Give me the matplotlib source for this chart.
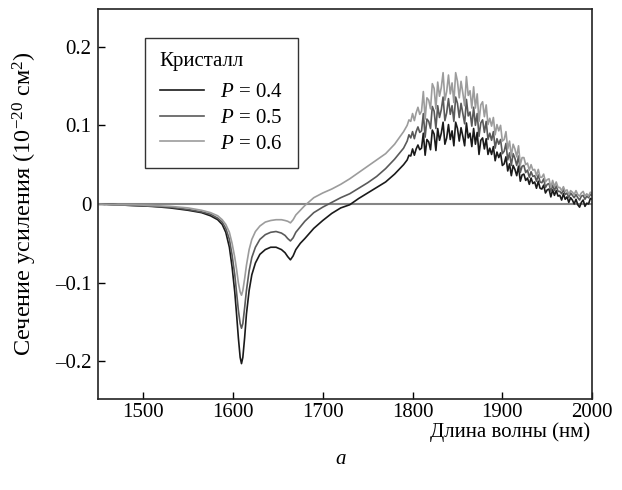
import numpy as np
import matplotlib
matplotlib.use("Agg")
import matplotlib.pyplot as plt

plt.rcParams['font.family'] = ['Liberation Serif', 'DejaVu Serif']
plt.rcParams['mathtext.fontset'] = 'custom'
plt.rcParams['mathtext.rm'] = 'Liberation Serif'
plt.rcParams['mathtext.it'] = 'Liberation Serif:italic'

# ---- data ----
wl_smooth = [1450, 1470, 1490, 1510, 1530, 1550, 1565, 1575, 1583, 1588, 1592, 1596,
             1599, 1602, 1604, 1606, 1608, 1609.5, 1611, 1613, 1615, 1618, 1621, 1625,
             1630, 1636, 1642, 1648, 1654, 1658, 1661, 1664, 1667, 1670, 1675, 1680,
             1690, 1700, 1710, 1720, 1730, 1740, 1750, 1760, 1770, 1780, 1790, 1794]
wl_noisy = list(range(1796, 2001, 2))
wavelength = np.array(wl_smooth + wl_noisy, dtype=float)

p04_smooth = [0.000, -0.001, -0.002, -0.003, -0.005, -0.008, -0.011, -0.015, -0.020, -0.026, -0.036, -0.055,
              -0.080, -0.112, -0.140, -0.170, -0.195, -0.203, -0.195, -0.170, -0.140, -0.110, -0.090, -0.075,
              -0.064, -0.058, -0.055, -0.055, -0.058, -0.062, -0.067, -0.071, -0.066, -0.058, -0.050, -0.044,
              -0.031, -0.021, -0.012, -0.005, -0.001, 0.007, 0.014, 0.021, 0.028, 0.038, 0.050, 0.056]
p04_noisy = [0.062, 0.061, 0.070, 0.062, 0.070, 0.075, 0.069, 0.071, 0.090, 0.062, 0.082, 0.079,
             0.069, 0.094, 0.089, 0.068, 0.096, 0.081, 0.090, 0.104, 0.076, 0.084, 0.101, 0.082,
             0.093, 0.074, 0.104, 0.096, 0.080, 0.097, 0.086, 0.074, 0.103, 0.084, 0.090, 0.073,
             0.096, 0.076, 0.091, 0.063, 0.081, 0.084, 0.070, 0.083, 0.063, 0.071, 0.063, 0.073,
             0.055, 0.066, 0.059, 0.065, 0.049, 0.051, 0.060, 0.042, 0.051, 0.036, 0.049, 0.044,
             0.036, 0.048, 0.029, 0.037, 0.038, 0.030, 0.033, 0.025, 0.033, 0.026, 0.028, 0.020,
             0.029, 0.020, 0.019, 0.024, 0.014, 0.018, 0.019, 0.009, 0.018, 0.011, 0.017, 0.010,
             0.011, 0.005, 0.013, 0.006, 0.009, 0.002, 0.008, 0.005, 0.000, 0.006, -0.001, -0.004,
             0.002, 0.005, -0.003, 0.001, 0.000, 0.007, 0.006]

p05_smooth = [0.000, -0.001, -0.002, -0.003, -0.004, -0.007, -0.010, -0.013, -0.018, -0.023, -0.031, -0.045,
              -0.065, -0.090, -0.112, -0.135, -0.152, -0.158, -0.152, -0.132, -0.110, -0.085, -0.068, -0.055,
              -0.045, -0.039, -0.036, -0.035, -0.037, -0.040, -0.044, -0.047, -0.043, -0.036, -0.029, -0.022,
              -0.011, -0.004, 0.002, 0.008, 0.013, 0.020, 0.027, 0.035, 0.045, 0.057, 0.071, 0.080]
p05_noisy = [0.088, 0.084, 0.092, 0.083, 0.092, 0.098, 0.091, 0.093, 0.115, 0.085, 0.108, 0.105,
             0.096, 0.124, 0.118, 0.096, 0.125, 0.110, 0.120, 0.136, 0.106, 0.116, 0.134, 0.114,
             0.125, 0.105, 0.136, 0.128, 0.110, 0.128, 0.115, 0.102, 0.133, 0.112, 0.117, 0.099,
             0.123, 0.100, 0.115, 0.086, 0.103, 0.107, 0.091, 0.105, 0.082, 0.090, 0.081, 0.092,
             0.071, 0.083, 0.076, 0.082, 0.064, 0.067, 0.077, 0.056, 0.065, 0.049, 0.064, 0.058,
             0.049, 0.061, 0.040, 0.048, 0.049, 0.040, 0.043, 0.034, 0.041, 0.035, 0.036, 0.029,
             0.037, 0.028, 0.027, 0.032, 0.021, 0.025, 0.026, 0.016, 0.024, 0.017, 0.023, 0.016,
             0.016, 0.013, 0.018, 0.012, 0.014, 0.008, 0.014, 0.011, 0.008, 0.012, 0.008, 0.005,
             0.010, 0.011, 0.006, 0.010, 0.008, 0.012, 0.011]

p06_smooth = [0.000, -0.001, -0.001, -0.002, -0.003, -0.005, -0.008, -0.011, -0.015, -0.020, -0.026, -0.036,
              -0.050, -0.068, -0.083, -0.100, -0.112, -0.116, -0.110, -0.095, -0.078, -0.058, -0.045, -0.035,
              -0.028, -0.023, -0.021, -0.020, -0.020, -0.021, -0.022, -0.024, -0.020, -0.014, -0.008, -0.002,
              0.008, 0.014, 0.019, 0.025, 0.032, 0.040, 0.048, 0.056, 0.064, 0.076, 0.092, 0.100]
p06_noisy = [0.107, 0.105, 0.115, 0.106, 0.116, 0.123, 0.114, 0.118, 0.143, 0.108, 0.135, 0.132,
             0.121, 0.153, 0.147, 0.121, 0.155, 0.137, 0.148, 0.167, 0.132, 0.143, 0.164, 0.140,
             0.154, 0.129, 0.167, 0.156, 0.135, 0.156, 0.141, 0.125, 0.162, 0.138, 0.144, 0.122,
             0.149, 0.122, 0.140, 0.105, 0.126, 0.130, 0.111, 0.126, 0.101, 0.109, 0.099, 0.110,
             0.088, 0.101, 0.093, 0.100, 0.080, 0.082, 0.092, 0.070, 0.080, 0.061, 0.076, 0.070,
             0.060, 0.074, 0.050, 0.059, 0.059, 0.050, 0.052, 0.043, 0.050, 0.043, 0.044, 0.036,
             0.044, 0.034, 0.034, 0.038, 0.028, 0.031, 0.032, 0.021, 0.030, 0.022, 0.028, 0.021,
             0.021, 0.017, 0.022, 0.016, 0.018, 0.012, 0.017, 0.015, 0.012, 0.017, 0.012, 0.010,
             0.014, 0.016, 0.010, 0.013, 0.010, 0.015, 0.013]

series = {
    "0.4": np.array(p04_smooth + p04_noisy),
    "0.5": np.array(p05_smooth + p05_noisy),
    "0.6": np.array(p06_smooth + p06_noisy),
}
colors = {"0.4": "#1a1a1a", "0.5": "#5a5a5a", "0.6": "#9c9c9c"}

xticks = [1500, 1600, 1700, 1800, 1900, 2000]
yticks = [-0.2, -0.1, 0, 0.1, 0.2]
yticklabels = ["\u20130.2", "\u20130.1", "0", "0.1", "0.2"]

# ---- figure ----
fig = plt.figure(figsize=(6.22, 4.90), dpi=100)
ax = fig.add_axes([0.158, 0.1857, 0.794, 0.796])

ax.axhline(0, color="#858585", lw=1.5, zorder=1)
for key in ["0.4", "0.5", "0.6"]:
    ax.plot(wavelength, series[key], color=colors[key], lw=1.2,
            label=r"$P$ = " + key, zorder=2)

ax.set_xlim(1450, 2000)
ax.set_ylim(-0.248, 0.248)
ax.set_xticks(xticks)
ax.set_yticks(yticks)
ax.set_yticklabels(yticklabels)
ax.tick_params(axis="x", direction="in", length=5, width=1, labelsize=15, pad=3,
               top=False)
ax.tick_params(axis="y", direction="in", length=5, width=1, labelsize=15, pad=5,
               right=False)
for s in ax.spines.values():
    s.set_linewidth(1.2)
    s.set_color("#222222")

fig.text(25 / 622, 1 - 204 / 490, "Сечение усиления (10$^{\u221220}$ см$^2$)",
         fontsize=17.5, rotation=90, ha="center", va="center")
fig.text(590 / 622, 1 - 432 / 490, "Длина волны (нм)", fontsize=15,
         ha="right", va="center")
fig.text(0.547, 0.063, "a", fontsize=15, style="italic", ha="center", va="center")

leg = ax.legend(title="Кристалл", loc="upper left", bbox_to_anchor=(0.095, 0.926),
                borderaxespad=0.0,
                fontsize=15, title_fontsize=15, frameon=True, fancybox=False,
                edgecolor="black", handlelength=2.1, handletextpad=0.8,
                labelspacing=0.3, borderpad=0.7, alignment="left")
leg._legend_box.sep = 8
leg.get_frame().set_linewidth(1.0)

fig.savefig("out.png", dpi=100)
